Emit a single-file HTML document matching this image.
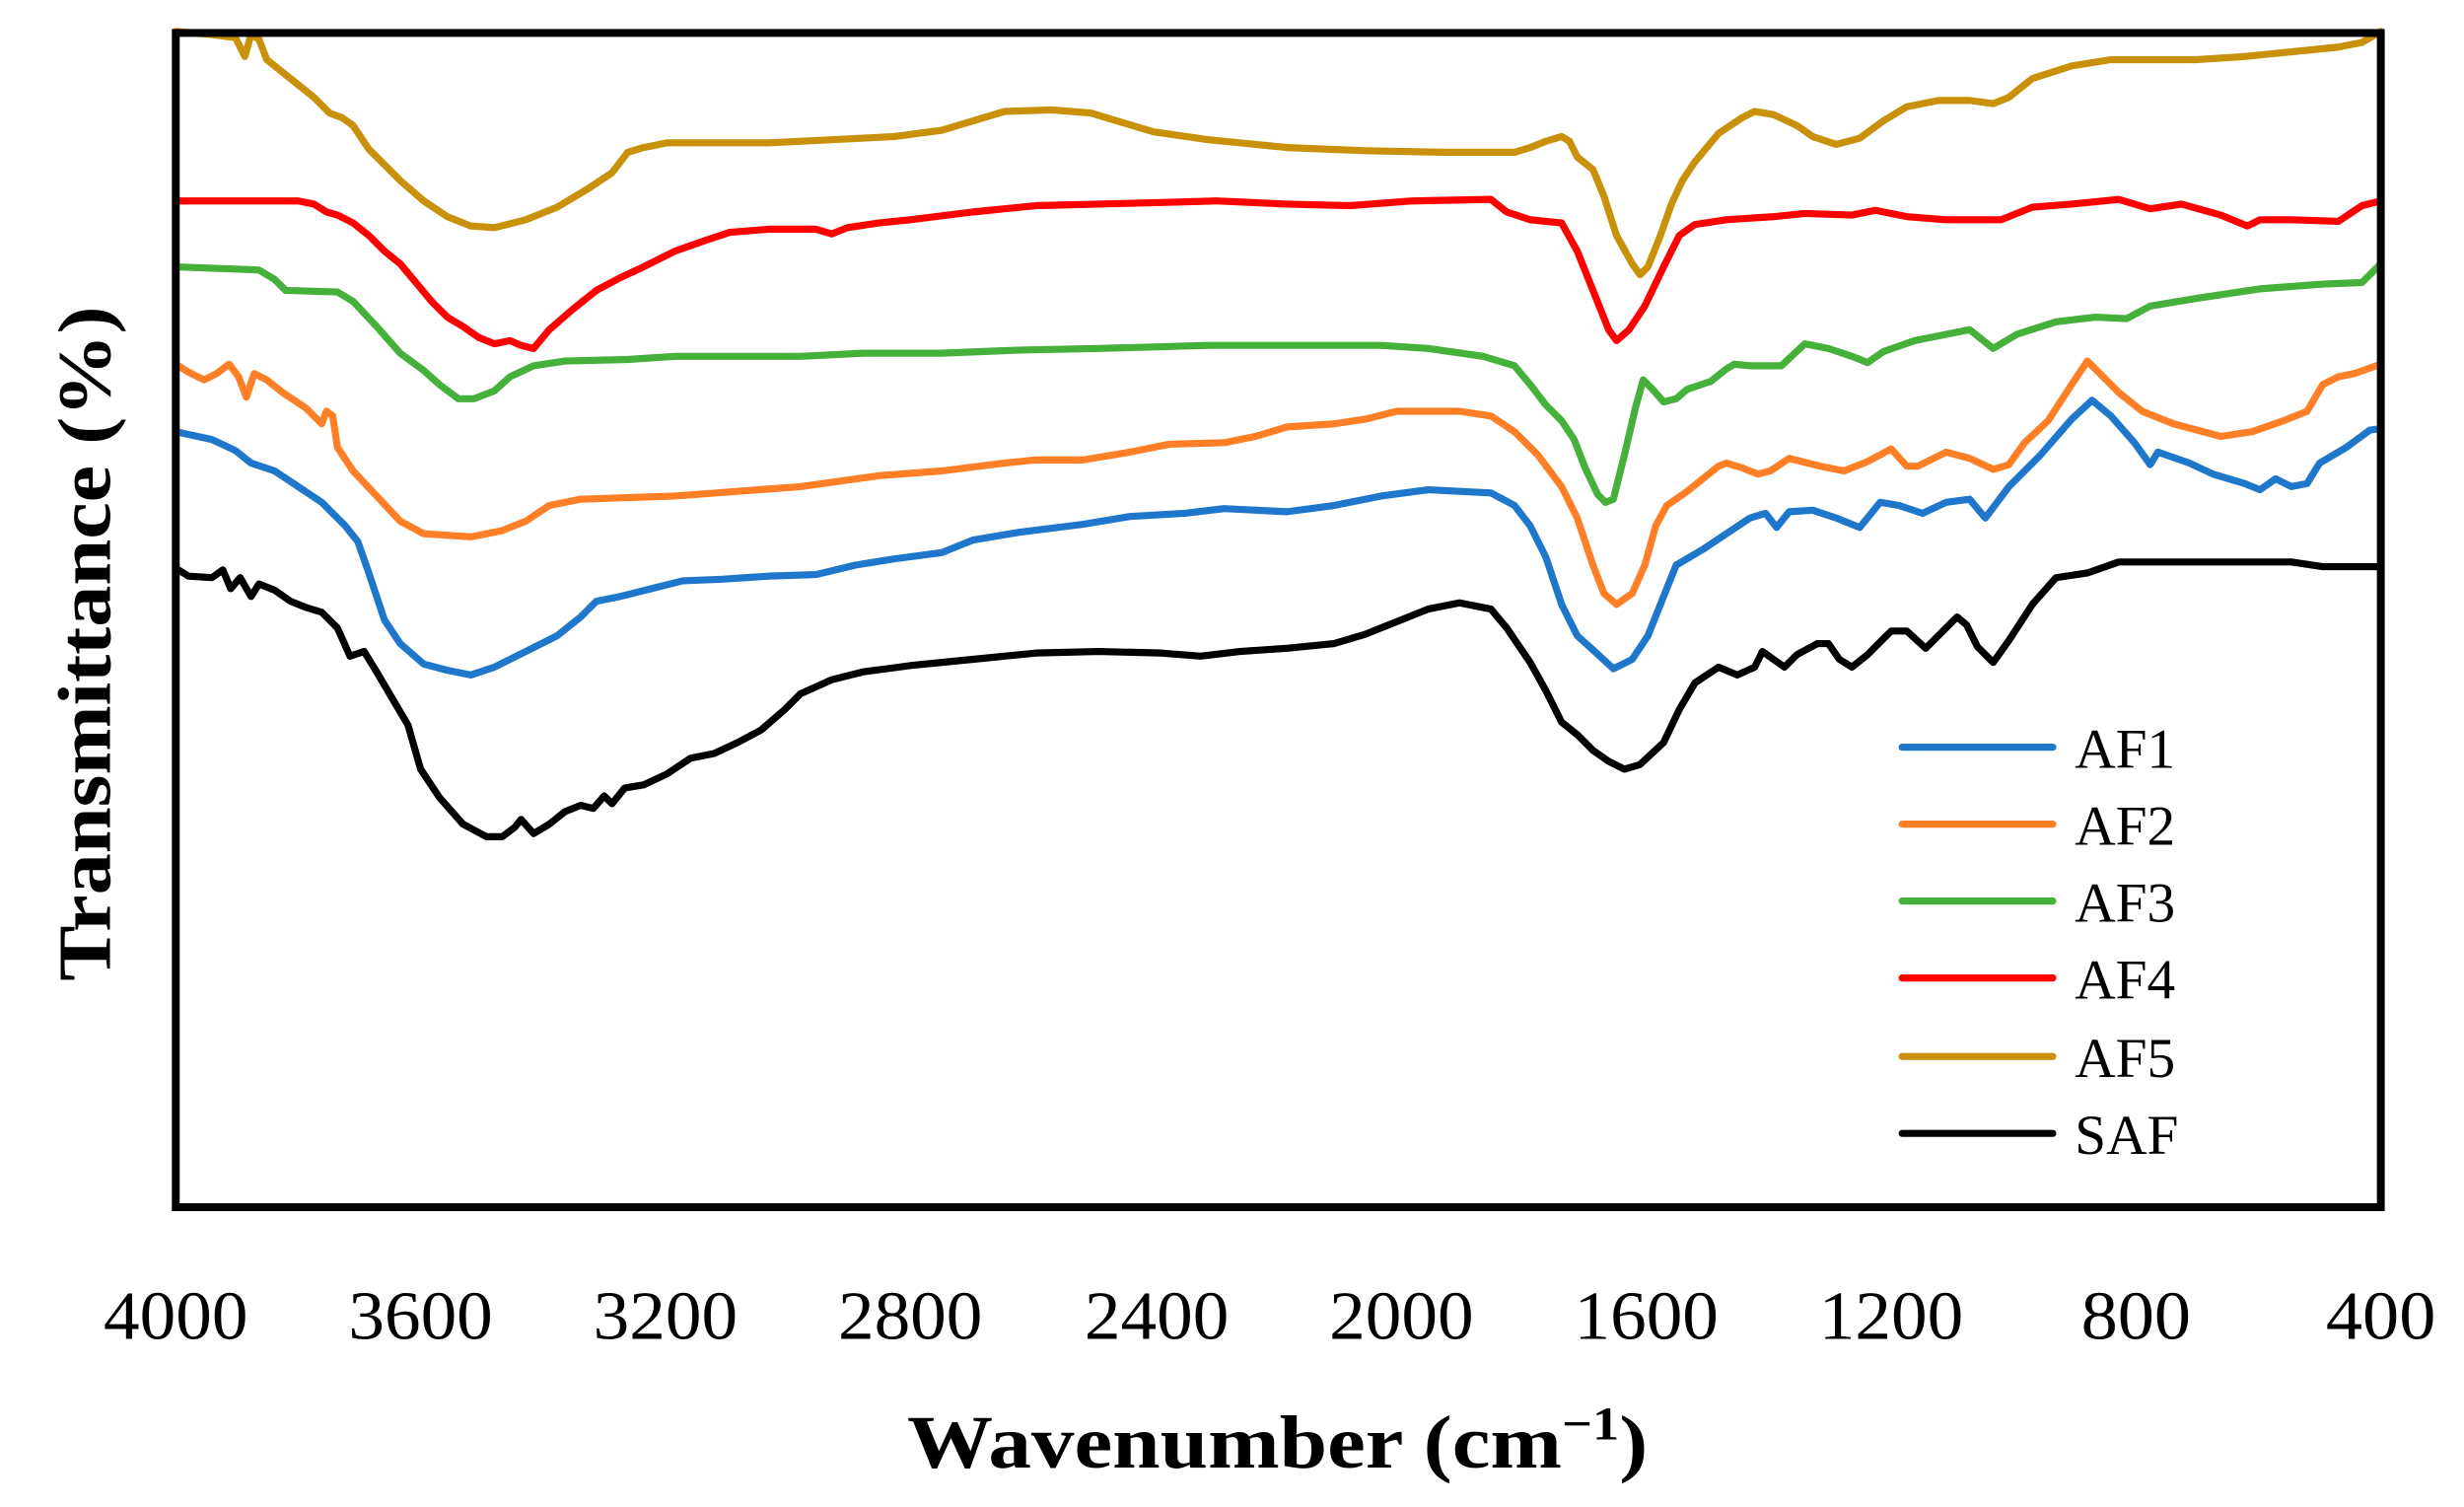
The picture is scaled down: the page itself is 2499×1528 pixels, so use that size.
<!DOCTYPE html>
<html><head><meta charset="utf-8"><style>html,body{margin:0;padding:0;background:#fff}svg{display:block}</style></head>
<body>
<svg width="2499" height="1528" viewBox="0 0 1570 960" preserveAspectRatio="none" xmlns="http://www.w3.org/2000/svg">
<rect width="1570" height="960" fill="#fff"/>
<g fill="none" stroke-width="4.5" stroke-linejoin="round" stroke-linecap="round">
<polyline stroke="#C9900A" points="112,20 135,22 150,24 156,36 160,22 165,25 170,38 185,50 200,62 210,72 218,75 225,80 235,95 245,105 255,115 270,128 285,138 300,144 315,145 335,140 355,132 375,120 390,110 400,97 410,94 425,91 450,91 490,91 530,89 570,87 600,83 620,77 640,71 670,70 695,72 715,78 735,84 770,89 820,94 870,96 920,97 965,97 975,94 985,90 995,87 1000,90 1005,100 1015,108 1022,125 1030,150 1040,168 1045,175 1050,170 1058,150 1065,130 1072,115 1080,103 1095,85 1110,75 1118,71 1130,73 1145,80 1155,87 1170,92 1185,88 1200,77 1215,68 1235,64 1255,64 1270,66 1280,62 1295,50 1320,42 1345,38 1380,38 1400,38 1430,36 1460,33 1490,30 1505,27 1517,20"/>
<polyline stroke="#FF0000" points="112,128 190,128 200,130 208,135 215,137 225,142 235,150 245,160 255,168 265,180 275,192 285,202 295,208 305,215 315,219 325,217 332,220 340,222 350,210 365,197 380,185 395,177 410,170 430,160 450,153 465,148 490,146 520,146 530,149 540,145 560,142 580,140 620,135 660,131 700,130 740,129 775,128 820,130 860,131 900,128 950,127 960,135 975,140 995,142 1005,160 1015,185 1025,210 1030,217 1038,210 1048,195 1060,170 1070,150 1080,143 1100,140 1130,138 1150,136 1180,137 1195,134 1215,138 1240,140 1275,140 1295,132 1320,130 1350,127 1370,133 1390,130 1415,137 1432,144 1440,140 1460,140 1490,141 1505,131 1517,128"/>
<polyline stroke="#45B03A" points="112,170 165,172 175,178 182,185 215,186 225,192 240,208 255,225 270,236 280,245 292,254 302,254 315,249 325,240 340,233 360,230 400,229 430,227 510,227 550,225 600,225 650,223 700,222 770,220 880,220 910,222 945,227 965,233 975,245 985,258 995,268 1003,280 1010,298 1018,315 1023,320 1028,318 1035,290 1042,260 1047,242 1053,248 1060,256 1068,254 1075,248 1090,243 1100,235 1105,232 1115,233 1135,233 1150,219 1165,222 1180,227 1190,231 1200,224 1220,217 1255,210 1270,222 1285,213 1310,205 1335,202 1355,203 1370,195 1400,190 1440,184 1480,181 1505,180 1517,168"/>
<polyline stroke="#FF7F27" points="112,232 120,237 130,242 138,238 146,232 152,240 157,253 162,238 170,242 180,250 195,260 205,270 208,262 212,265 215,285 225,300 240,316 255,332 270,340 300,342 320,338 335,332 350,322 370,318 430,316 510,310 560,303 600,300 640,295 660,293 690,293 720,288 745,283 780,282 800,278 820,272 850,270 870,267 890,262 930,262 950,265 965,275 980,290 995,310 1005,330 1015,360 1022,378 1030,385 1040,378 1048,360 1055,335 1062,322 1075,313 1085,305 1095,297 1100,295 1110,298 1120,302 1128,300 1140,292 1160,297 1175,300 1190,294 1205,286 1215,297 1222,297 1240,288 1255,292 1270,299 1280,296 1290,282 1305,268 1320,245 1330,230 1338,238 1350,250 1365,262 1385,270 1415,278 1435,275 1455,268 1470,262 1480,245 1490,240 1500,238 1517,232"/>
<polyline stroke="#1F77CC" points="112,275 135,280 150,287 160,295 175,300 190,310 205,320 220,335 228,345 235,365 245,395 255,410 270,423 285,427 300,430 315,425 335,415 355,405 370,393 380,383 395,380 415,375 435,370 460,369 490,367 520,366 545,360 570,356 600,352 620,344 650,339 690,334 720,329 755,327 780,324 820,326 850,322 880,316 910,312 950,314 965,322 975,335 985,355 995,385 1005,405 1015,414 1028,426 1040,420 1050,405 1060,380 1068,360 1085,350 1100,340 1115,330 1125,327 1132,336 1140,326 1155,325 1170,330 1185,336 1198,320 1210,322 1225,327 1240,320 1255,318 1265,330 1280,310 1300,290 1320,267 1333,255 1345,265 1360,282 1370,296 1375,288 1395,295 1410,302 1430,308 1440,312 1450,305 1460,310 1470,308 1478,295 1495,285 1510,274 1517,273"/>
<polyline stroke="#000" points="112,362 120,367 135,368 142,363 147,375 153,368 160,380 165,372 175,376 185,383 195,387 205,390 215,400 223,418 232,415 240,428 250,445 260,462 268,490 280,508 295,525 310,533 320,533 328,527 332,522 340,531 350,525 360,517 370,513 378,515 385,507 390,512 398,502 410,500 425,493 440,483 455,480 470,473 485,465 500,452 510,442 530,433 550,428 580,424 620,420 660,416 700,415 740,416 765,418 790,415 820,413 850,410 870,404 890,396 910,388 930,384 950,388 960,400 975,422 985,440 995,460 1005,468 1015,478 1025,485 1035,490 1045,487 1060,473 1070,452 1080,435 1095,425 1107,430 1118,425 1123,415 1130,420 1137,425 1145,417 1158,410 1165,410 1172,420 1180,425 1190,417 1205,402 1215,402 1227,413 1240,400 1247,393 1253,398 1260,412 1270,422 1280,408 1295,385 1310,368 1330,365 1350,358 1400,358 1460,358 1480,361 1517,361"/>
<line x1="1212" y1="476" x2="1308" y2="476" stroke="#1F77CC"/>
<line x1="1212" y1="525" x2="1308" y2="525" stroke="#FF7F27"/>
<line x1="1212" y1="574" x2="1308" y2="574" stroke="#45B03A"/>
<line x1="1212" y1="623" x2="1308" y2="623" stroke="#FF0000"/>
<line x1="1212" y1="673" x2="1308" y2="673" stroke="#C9900A"/>
<line x1="1212" y1="722" x2="1308" y2="722" stroke="#000"/>
</g>
<rect x="112" y="21" width="1405" height="748" fill="none" stroke="#000" stroke-width="5"/>
<g font-family="Liberation Serif, serif" font-size="36" fill="#000">
<text x="1322" y="489">AF1</text>
<text x="1322" y="538">AF2</text>
<text x="1322" y="587">AF3</text>
<text x="1322" y="636">AF4</text>
<text x="1322" y="686">AF5</text>
<text x="1322" y="735">SAF</text>
</g>
<g font-family="Liberation Serif, serif" font-size="44" fill="#000" text-anchor="middle">
<text x="112" y="853" textLength="92" lengthAdjust="spacingAndGlyphs">4000</text>
<text x="268" y="853" textLength="92" lengthAdjust="spacingAndGlyphs">3600</text>
<text x="424" y="853" textLength="92" lengthAdjust="spacingAndGlyphs">3200</text>
<text x="580" y="853" textLength="92" lengthAdjust="spacingAndGlyphs">2800</text>
<text x="737" y="853" textLength="92" lengthAdjust="spacingAndGlyphs">2400</text>
<text x="893" y="853" textLength="92" lengthAdjust="spacingAndGlyphs">2000</text>
<text x="1049" y="853" textLength="92" lengthAdjust="spacingAndGlyphs">1600</text>
<text x="1205" y="853" textLength="92" lengthAdjust="spacingAndGlyphs">1200</text>
<text x="1361" y="853" textLength="70" lengthAdjust="spacingAndGlyphs">800</text>
<text x="1517" y="853" textLength="70" lengthAdjust="spacingAndGlyphs">400</text>
</g>
<text x="578" y="935" font-family="Liberation Serif, serif" font-size="48" font-weight="bold" textLength="472" lengthAdjust="spacingAndGlyphs">Wavenumber (cm<tspan font-size="30" dy="-18">−1</tspan><tspan dy="18">)</tspan></text>
<text transform="translate(70,410) rotate(-90)" text-anchor="middle" font-family="Liberation Serif, serif" font-size="48" font-weight="bold" textLength="430" lengthAdjust="spacingAndGlyphs">Transmittance (%)</text>
</svg>
</body></html>
